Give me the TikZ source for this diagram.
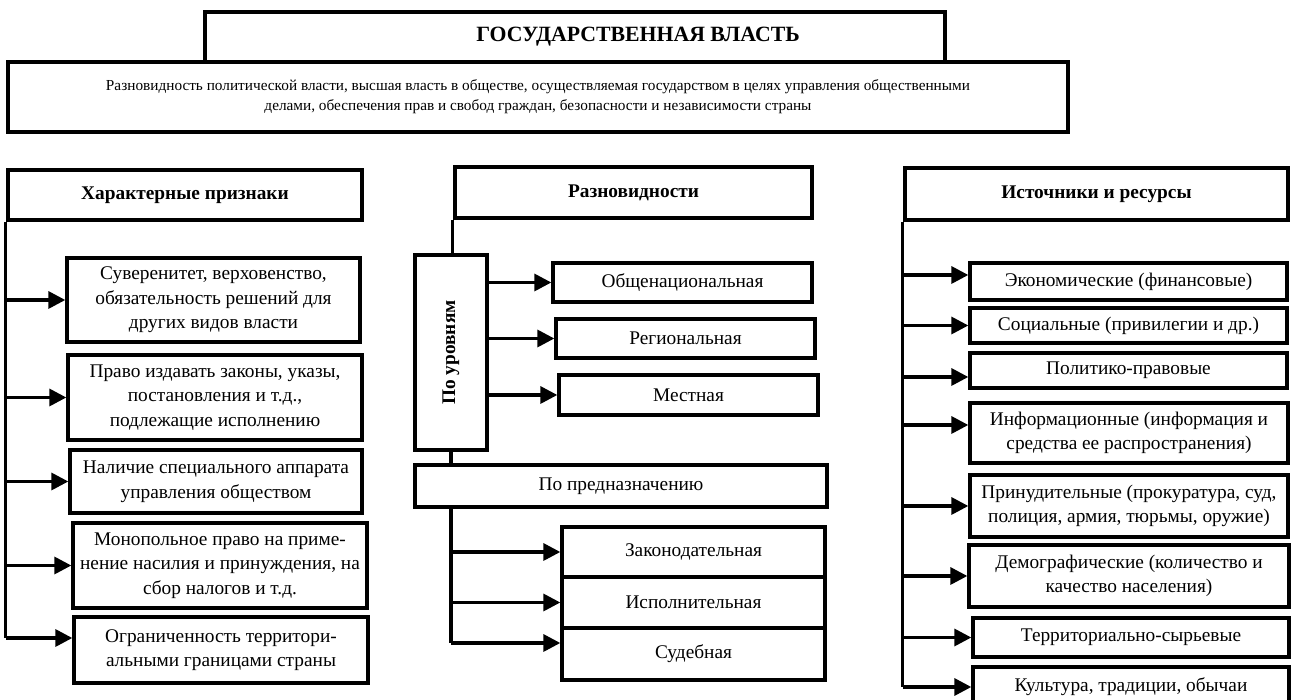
\documentclass[tikz,border=0pt]{standalone}
\usepackage{fontspec}
\setmainfont{Liberation Serif}
\usetikzlibrary{arrows.meta}

\tikzset{
  box/.style={draw, line width=1.9pt, align=center, inner sep=0pt, font=\fontsize{11}{14}\selectfont},
  headbox/.style={box, line width=2.6pt, font=\fontsize{11}{14}\selectfont\bfseries},
  trunk/.style={line width=1.9pt},
  feed/.style={trunk, -{Triangle[length=3.4mm,width=3.4mm]}},
}

\begin{document}
\begin{tikzpicture}
\useasboundingbox (0,0) rectangle (25.86,14);
\clip (0,0) rectangle (25.86,14);

\node[box, line width=2.2pt, minimum width=14.8cm, minimum height=1.0cm] (gov) at (11.5,13.26) {};
\node[font=\fontsize{12.4}{14}\selectfont\bfseries] (govtext) at (12.76,13.26) {ГОСУДАРСТВЕННАЯ ВЛАСТЬ};
\node[box, line width=2.2pt, fill=white, minimum width=21.2cm, minimum height=1.4cm, font=\fontsize{8.7}{11.4}\selectfont] (def) at (10.76,12.06)
  {Разновидность политической власти, высшая власть в обществе, осуществляемая государством в целях управления общественными\\
   делами, обеспечения прав и свобод граждан, безопасности и независимости страны};

\node[headbox, minimum width=7.08cm, minimum height=1.0cm] (signs) at (3.7,10.1) {Характерные признаки};
\node[box, minimum width=5.86cm, minimum height=1.68cm] (sign1) at (4.27,8.0) {Суверенитет, верховенство,\\обязательность решений для\\других видов власти};
\node[box, minimum width=5.88cm, minimum height=1.7cm] (sign2) at (4.3,6.05) {Право издавать законы, указы,\\постановления и т.д.,\\подлежащие исполнению};
\node[box, minimum width=5.84cm, minimum height=1.26cm] (sign3) at (4.32,4.37) {Наличие специального аппарата\\управления обществом};
\node[box, minimum width=5.88cm, minimum height=1.7cm] (sign4) at (4.4,2.69) {Монопольное право на приме-\\нение насилия и принуждения, на\\сбор налогов и т.д.};
\node[box, minimum width=5.88cm, minimum height=1.32cm] (sign5) at (4.42,1.0) {Ограниченность территори-\\альными границами страны};

\coordinate (s5) at ([yshift=2.4mm]sign5.west);
\draw[trunk] (signs.south west) -- (signs.south west |- s5);
\foreach \n in {1,...,4}
  \draw[feed] (signs.south west |- sign\n.west) -- (sign\n.west);
\draw[feed] (signs.south west |- s5) -- (s5);

\node[headbox, minimum width=7.14cm, minimum height=1.02cm] (kinds) at (12.67,10.15) {Разновидности};
\node[box, line width=2.2pt, minimum width=1.44cm, minimum height=3.9cm] (levels) at (9.02,6.95) {\rotatebox{90}{\bfseries По уровням}};
\node[box, minimum width=5.18cm, minimum height=0.78cm] (nat) at (13.65,8.35) {Общенациональная};
\node[box, minimum width=5.18cm, minimum height=0.78cm] (reg) at (13.71,7.23) {Региональная};
\node[box, minimum width=5.18cm, minimum height=0.8cm] (loc) at (13.77,6.1) {Местная};
\node[box, minimum width=8.24cm, minimum height=0.84cm] (purpose) at (12.42,4.28) {По предназначению};
\node[box, minimum width=5.26cm, minimum height=1.0cm] (legis) at (13.87,2.96) {Законодательная};
\node[box, minimum width=5.26cm, minimum height=1.02cm] (exec) at (13.87,1.95) {Исполнительная};
\node[box, minimum width=5.26cm, minimum height=1.04cm] (court) at (13.87,0.92) {Судебная};

\draw[trunk] (kinds.south west) -- (kinds.south west |- levels.north);
\foreach \n in {nat,reg,loc}
  \draw[feed] (levels.east |- \n.west) -- (\n.west);
\draw[trunk] (levels.south) -- (levels.south |- purpose.north);
\coordinate (c3) at ([yshift=2.2mm]court.west);
\draw[trunk] (levels.south |- purpose.south) -- (levels.south |- c3);
\draw[feed] (levels.south |- legis.west) -- (legis.west);
\draw[feed] (levels.south |- exec.west) -- (exec.west);
\draw[feed] (levels.south |- c3) -- (c3);

\node[headbox, minimum width=7.66cm, minimum height=1.04cm] (res) at (21.93,10.12) {Источники и ресурсы};
\node[box, minimum width=6.34cm, minimum height=0.74cm] (res1) at (22.57,8.37) {Экономические (финансовые)};
\node[box, minimum width=6.34cm, minimum height=0.7cm] (res2) at (22.57,7.49) {Социальные (привилегии и др.)};
\node[box, minimum width=6.34cm, minimum height=0.7cm] (res3) at (22.57,6.59) {Политико-правовые};
\node[box, minimum width=6.36cm, minimum height=1.2cm] (res4) at (22.58,5.34) {Информационные (информация и\\средства ее распространения)};
\node[box, minimum width=6.36cm, minimum height=1.24cm] (res5) at (22.58,3.88) {Принудительные (прокуратура, суд,\\полиция, армия, тюрьмы, оружие)};
\node[box, minimum width=6.4cm, minimum height=1.24cm] (res6) at (22.58,2.48) {Демографические (количество и\\качество населения)};
\node[box, minimum width=6.32cm, minimum height=0.78cm] (res7) at (22.62,1.25) {Территориально-сырьевые};
\node[box, minimum width=6.32cm, minimum height=0.8cm] (res8) at (22.62,0.26) {Культура, традиции, обычаи};

\foreach \n/\s in {1/1.3,2/0,3/-1.3,4/1.6,5/0,6/0,7/0,8/0}
  \path ([yshift=\s mm]res\n.west) coordinate (t\n);
\draw[trunk] (res.south west) -- (res.south west |- t8);
\foreach \n in {1,...,8}
  \draw[feed] (res.south west |- t\n) -- (t\n);
\end{tikzpicture}
\end{document}
